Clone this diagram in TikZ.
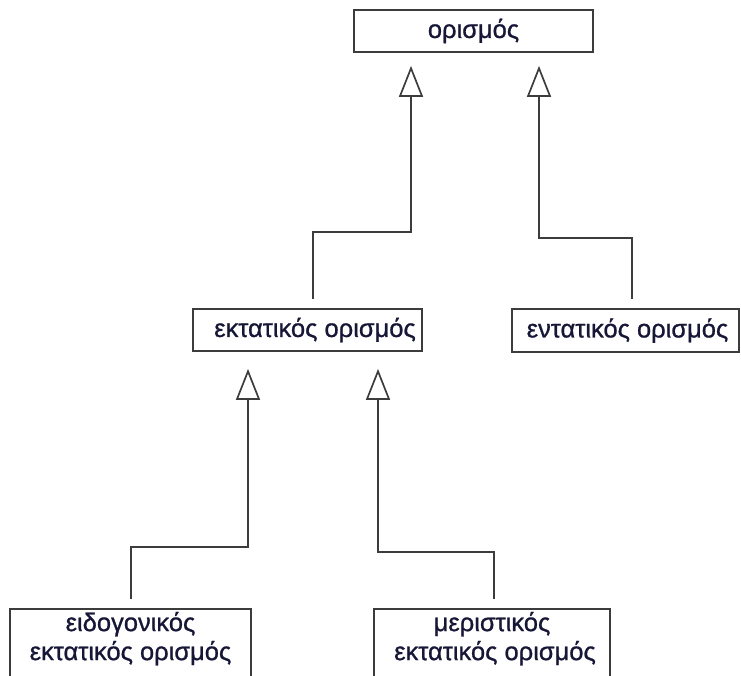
\documentclass[tikz,border=0pt]{standalone}
\usepackage{fontspec}
\setmainfont[FakeBold=0.9]{Liberation Sans}
\usetikzlibrary{arrows.meta,calc}
\definecolor{inkline}{RGB}{60,60,60}
\definecolor{inktext}{RGB}{22,22,55}
\tikzset{
  box/.style={draw=inkline, line width=1.8pt, fill=white, inner sep=0pt,
              text=inktext, font=\fontsize{25.5}{29}\selectfont},
  conn/.style={draw=inkline, line width=2.2pt,
               -{Triangle[open, length=31pt, width=24pt, line width=1.7pt]}},
}
\begin{document}
\begin{tikzpicture}[x=1pt, y=-1pt]
  \useasboundingbox (0,0) rectangle (741,675);
  \clip (0,0) rectangle (741,675);

  % concept boxes
  \node[box, minimum width=239pt, minimum height=42pt] (top) at (473.5,31) {ορισμός};
  \node[box, minimum width=229pt, minimum height=42pt] (mid) at (307.5,330)
       {\hspace{15pt}εκτατικός ορισμός};
  \node[box, minimum width=227pt, minimum height=43pt] (rgt) at (625.5,330.5)
       {\hspace{4pt}εντατικός ορισμός};
  \node[box, anchor=north, minimum width=241pt] (bl) at (130.5,608)
       {\parbox[t][90pt][t]{236pt}{\centering\vspace{3pt}ειδογονικός\\εκτατικός ορισμός}};
  \node[box, anchor=north, minimum width=236pt] (br) at (492,608)
       {\parbox[t][90pt][t]{232pt}{\centering\vspace{3pt}μεριστικός\\\hspace{6pt}εκτατικός ορισμός}};

  % generalisation links
  \draw[conn] ($(mid.north)+(5.5,-9)$) -- ++(0,-67) -| ($(top.south)+(-62.5,13)$);
  \draw[conn] ($(rgt.north)+(6.5,-9)$) -- ++(0,-61) -| ($(top.south)+(65.5,13)$);
  \draw[conn] ($(bl.north)+(0.5,-9)$) -- ++(0,-52) -| ($(mid.south)+(-59.5,17)$);
  \draw[conn] ($(br.north)+(2,-9)$) -- ++(0,-47) -| ($(mid.south)+(70.5,17)$);
\end{tikzpicture}
\end{document}
